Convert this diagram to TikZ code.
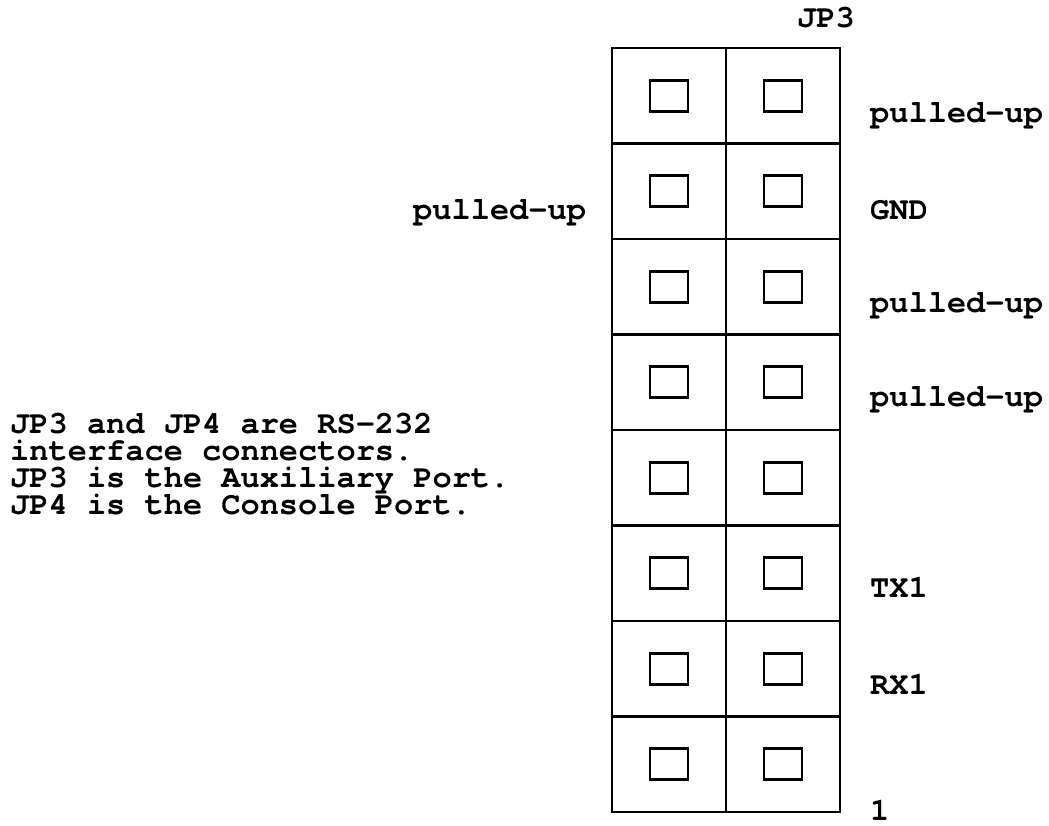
\documentclass[tikz,border=0pt]{standalone}
\usepackage{fontspec}
\setmonofont{TeX Gyre Cursor}
\usepackage{xcolor}

\tikzset{
  cellbox/.style={draw, line width=2.6pt, minimum width=114pt, minimum height=95.5pt, inner sep=0pt},
  pinbox/.style={draw, line width=2.6pt, minimum width=38pt, minimum height=31pt, inner sep=0pt},
  pinlabel/.style={anchor=base west, inner sep=0pt, font={\ttfamily\bfseries\fontsize{32}{27}\selectfont\lineskiplimit -50pt\relax}}
}

\begin{document}
\begin{tikzpicture}[x=1pt, y=1pt]
  \useasboundingbox (0,0) rectangle (1049,826);
  % header 2x8
  \foreach \r in {1,...,8} {
    \node[cellbox] (cl\r) at (669, {826-48-(\r-0.5)*95.5}) {};
    \node[cellbox] (cr\r) at (783, {826-48-(\r-0.5)*95.5}) {};
    \node[pinbox] (pl\r) at (cl\r.center) {};
    \node[pinbox] (pr\r) at (cr\r.center) {};
  }
  \node[pinlabel] (jp) at (797, 826-28) {JP3};
  \node[pinlabel] (sa) at (870, 826-123) {pulled-up};
  \node[pinlabel] (sb) at (870, 826-220) {GND};
  \node[pinlabel] (sc) at (870, 826-313) {pulled-up};
  \node[pinlabel] (sd) at (870, 826-407) {pulled-up};
  \node[pinlabel] (tx) at (870, 826-598) {TX1};
  \node[pinlabel] (rx) at (870, 826-695) {RX1};
  \node[pinlabel] (one) at (870, 826-821) {1};
  \node[pinlabel] (sl) at (413, 826-220) {pulled-up};
  \node[pinlabel, align=left] (note) at (10, 826-515) {JP3 and JP4 are RS-232\\interface connectors.\\JP3 is the Auxiliary Port.\\JP4 is the Console Port.};
\end{tikzpicture}
\end{document}
